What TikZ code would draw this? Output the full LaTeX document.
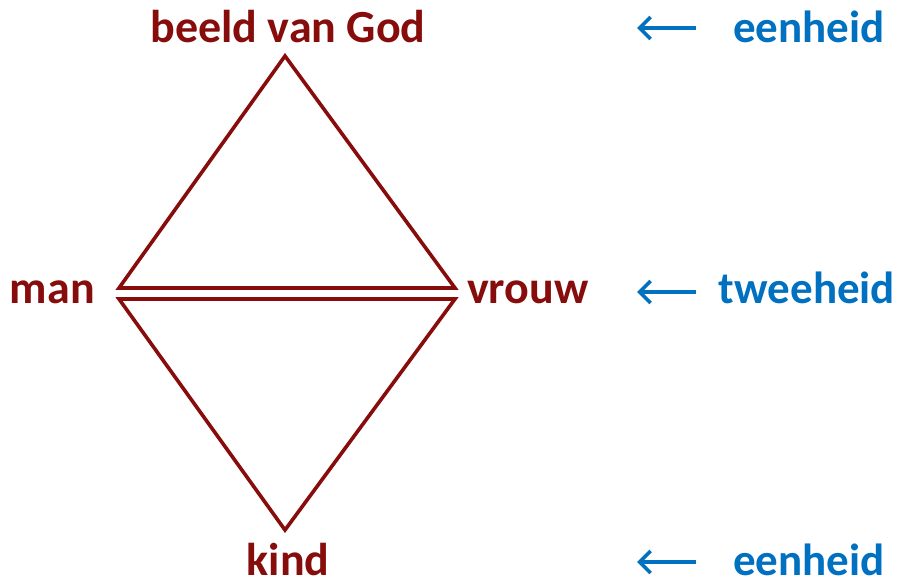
\documentclass[tikz,border=0pt]{standalone}
\usepackage{fontspec}
\setmainfont{Carlito}
\usetikzlibrary{arrows.meta}
\definecolor{dred}{RGB}{135,12,12}
\definecolor{oblue}{RGB}{0,112,192}
\tikzset{
  redlbl/.style={font=\fontsize{46}{46}\selectfont\bfseries, text=dred, inner sep=0pt, anchor=base},
  bluelbl/.style={font=\fontsize{45}{45}\selectfont\bfseries, text=oblue, inner sep=0pt, anchor=base},
  tri/.style={draw=dred, line width=3.6pt, line join=miter},
  arr/.style={draw=oblue, line width=3.6pt, -{Straight Barb[length=11pt,width=22pt]}},
}
\begin{document}
\begin{tikzpicture}[x=1pt,y=-1pt]
\useasboundingbox (0,0) rectangle (898,580);
% triangle vertices
\coordinate (apex) at (285,56);
\coordinate (ul) at (119,288);
\coordinate (ur) at (455,288);
\coordinate (ll) at (119,299);
\coordinate (lr) at (455,299);
\coordinate (bot) at (285,530);
\draw[tri] (apex) -- (ul) -- (ur) -- cycle;
\draw[tri] (ll) -- (lr) -- (bot) -- cycle;
% red labels
\node[redlbl] (god) at (288,43) {beeld van God};
\node[redlbl, anchor=base east] (man) at (95,304) {man};
\node[redlbl, anchor=base west] (vrouw) at (467,304) {vrouw};
\node[redlbl, text depth=0pt] (kind) at (288,575) {kind};
% blue labels
\node[bluelbl] (e1) at (809,43) {eenheid};
\node[bluelbl] (t2) at (807,304) {tweeheid};
\node[bluelbl, text depth=0pt] (e3) at (809,575) {eenheid};
% arrows
\coordinate (a1s) at (696,28); \coordinate (a1e) at (637,28);
\coordinate (a2s) at (696,292); \coordinate (a2e) at (637,292);
\coordinate (a3s) at (696,562); \coordinate (a3e) at (637,562);
\draw[arr] (a1s) -- (a1e);
\draw[arr] (a2s) -- (a2e);
\draw[arr] (a3s) -- (a3e);
\end{tikzpicture}
\end{document}
